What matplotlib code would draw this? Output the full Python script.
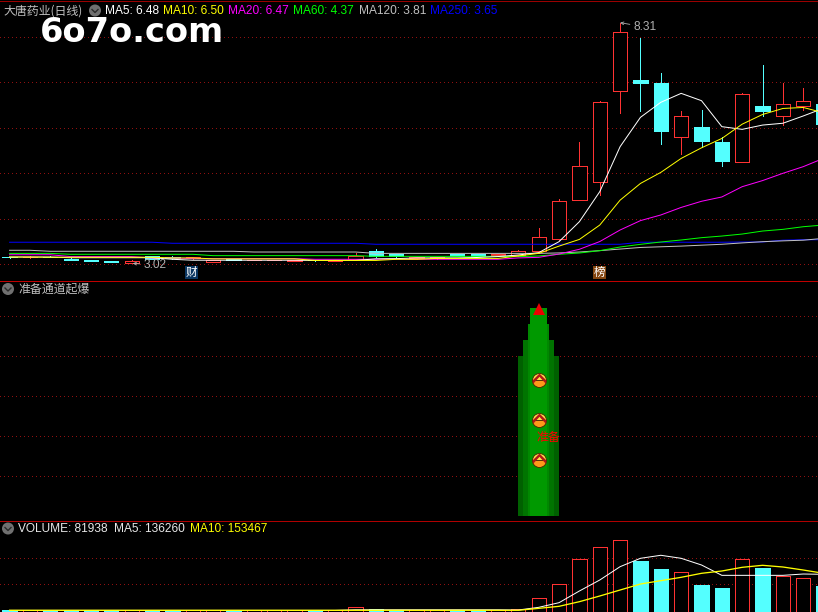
import matplotlib
matplotlib.use("Agg")
import matplotlib.pyplot as plt
from matplotlib.patches import Circle, Rectangle

W, H = 818, 612
X0, STEP = 9.6, 20.35

opens  = [3.16,3.15,3.17,3.125,3.10,3.07,3.03,3.18,3.17,3.13,3.05,3.11,3.09,3.09,3.075,3.10,3.075,3.116,3.30,3.226,3.13,3.13,3.22,3.22,3.20,
          3.20,3.286,3.55,4.41,4.80,6.80,7.05,6.98,5.79,6.02,5.69,5.24,6.47,6.25,6.49,6.52]
closes = [3.15,3.17,3.155,3.105,3.08,3.055,3.08,3.12,3.13,3.16,3.09,3.09,3.10,3.10,3.095,3.085,3.095,3.19,3.18,3.18,3.15,3.15,3.19,3.19,3.22,
          3.29,3.593,4.385,5.15,6.56,8.10,6.99,5.94,6.25,5.72,5.28,6.74,6.38,6.52,6.60,6.08]
highs  = [3.165,3.175,3.175,3.13,3.105,3.075,3.085,3.19,3.175,3.17,3.095,3.115,3.105,3.105,3.10,3.105,3.10,3.245,3.33,3.23,3.155,3.155,3.225,3.225,3.225,
          3.31,3.80,4.43,5.69,6.59,8.31,7.97,7.20,6.37,6.39,5.80,6.76,7.38,6.98,6.87,6.55]
lows   = [3.145,3.145,3.15,3.09,3.07,3.04,3.02,3.115,3.125,3.125,3.045,3.085,3.085,3.085,3.07,3.08,3.07,3.11,3.17,3.16,3.125,3.125,3.185,3.185,3.195,
          3.18,3.25,3.54,5.15,4.52,6.33,6.38,5.64,5.43,5.58,5.15,5.24,6.27,6.07,6.39,6.07]

ma5   = [3.16,3.16,3.16,3.145,3.145,3.145,3.145,3.145,3.11,3.09,3.09,3.09,3.09,3.09,3.09,3.085,3.085,3.085,3.12,3.125,3.14,3.14,3.14,3.15,3.17,
         3.205,3.256,3.498,3.937,4.596,5.585,6.23,6.56,6.757,6.596,6.025,5.966,6.06,6.10,6.26,6.43]
ma10  = [3.16,3.16,3.155,3.155,3.155,3.155,3.155,3.155,3.14,3.14,3.12,3.12,3.12,3.12,3.12,3.085,3.085,3.085,3.085,3.11,3.11,3.13,3.13,3.13,3.13,
         3.183,3.24,3.40,3.547,3.862,4.41,4.777,5.02,5.327,5.56,5.766,6.08,6.293,6.425,6.447,6.33]
ma20  = [3.21,3.21,3.21,3.17,3.17,3.17,3.17,3.14,3.14,3.125,3.125,3.125,3.125,3.125,3.125,3.11,3.11,3.11,3.11,3.11,3.11,3.11,3.11,3.11,3.11,
         3.14,3.153,3.226,3.33,3.50,3.754,3.96,4.084,4.25,4.385,4.48,4.706,4.84,5.0,5.146,5.33]
ma60  = [3.24,3.24,3.24,3.22,3.22,3.22,3.22,3.22,3.22,3.22,3.19,3.19,3.19,3.19,3.19,3.19,3.19,3.19,3.175,3.175,3.175,3.175,3.175,3.175,3.175,
         3.168,3.183,3.22,3.248,3.30,3.38,3.439,3.49,3.534,3.585,3.621,3.665,3.731,3.768,3.826,3.863]
ma120 = [3.308,3.308,3.286,3.286,3.286,3.286,3.286,3.286,3.286,3.286,3.286,3.286,3.27,3.27,3.27,3.27,3.27,3.27,3.24,3.24,3.24,3.24,3.24,3.24,3.24,
         3.24,3.24,3.25,3.27,3.30,3.335,3.37,3.385,3.40,3.42,3.44,3.47,3.497,3.515,3.53,3.57]
ma250 = [3.485]*8 + [3.462]*10 + [3.44]*13 + [3.485]*5 + [3.49]*2 + [3.53,3.54,3.54]

volume = [7000,6000,7000,7000,7000,7000,6000,7000,7000,6000,7000,6000,6000,6000,6000,6000,6000,15000,9000,7000,6000,6000,7000,7000,6000,
          10400,43200,87300,166100,203900,225900,160700,135500,125100,85100,75600,166100,138600,112500,106200,81938]
vol_ma5 = [5000]*17 + [7000]*8 + [6300,14700,29400,66200,100800,142800,169200,178700,169200,148100,115500,115500,115500,115500,119700,118700]
vol_ma10 = [5400]*25 + [5300,11500,17900,32500,50400,69300,88200,98700,109300,121900,129200,140800,147100,141800,132300,121900]

signal_x = 26
tower_tops = [80, 88, 96, 104]
tower_spans = [2.015, 1.52, 1.03, 0.835]
tower_colors = ["#006000", "#007400", "#008800", "#009900"]
signal_levels = [68, 48, 28]
peak_level = 103.4
note_level = 39.6

price_grid = [3, 4, 5, 6, 7, 8]
signal_grid = [20, 40, 60, 80, 100]
volume_grid = [87000, 169000]

RED, CYAN = "#ff3232", "#54ffff"
GRID = "#8f1010"
GRAY = "#c0c0c0"
EDGE = 0.72
LINE = 0.72
CJK = ["Noto Sans CJK SC", "DejaVu Sans"]
LATIN = "Liberation Sans"
FS = 8.6
PX = 0.72

fig = plt.figure(figsize=(W/100, H/100), dpi=100, facecolor="black")


def panel(top, bottom, ylim):
    ax = fig.add_axes([0, 1-bottom/H, 1, (bottom-top)/H], facecolor="black")
    ax.set_xlim(-X0/STEP, (W-X0)/STEP)
    ax.set_ylim(*ylim)
    ax.axis("off")
    return ax


def grid(ax, levels):
    for v in levels:
        ax.axhline(v, color=GRID, lw=0.6, ls=(0, (1.2, 3.6)), antialiased=False, zorder=0)


def candle_colour(o, c):
    return RED if c >= o else CYAN


# price panel
ax1 = panel(0, 280, (3+(264.3-280)/45.5, 3+264.3/45.5))
grid(ax1, price_grid)
xs = list(range(len(opens)))
for i, o, c, h, l in zip(xs, opens, closes, highs, lows):
    col = candle_colour(o, c)
    top, bot = max(o, c), min(o, c)
    ax1.vlines(i, top, h, color=col, lw=EDGE, antialiased=False, zorder=2)
    ax1.vlines(i, l, bot, color=col, lw=EDGE, antialiased=False, zorder=2)
    up = col == RED
    ax1.bar(i, top-bot, bottom=bot, width=0.70, facecolor="black" if up else CYAN,
            edgecolor=col, linewidth=EDGE, antialiased=False, zorder=3)
for series, colour, z in [(ma250, "#0000ff", 4), (ma120, GRAY, 4), (ma60, "#00ff00", 5),
                          (ma20, "#ff00ff", 5), (ma5, "#ffffff", 6), (ma10, "#ffff00", 6)]:
    ax1.plot(xs, series, color=colour, lw=LINE, antialiased=True, zorder=z)

hi = max(highs); hi_i = highs.index(hi)
lo = min(lows); lo_i = lows.index(lo)
ax1.annotate(f"{hi:.2f}", xy=(hi_i, hi), xytext=(634, H-27), textcoords="figure pixels",
             color="#b0b0b0", fontsize=FS, family=LATIN, va="center",
             arrowprops=dict(arrowstyle="->", color="#b0b0b0", lw=0.6, shrinkA=1, shrinkB=0, mutation_scale=5))
ax1.annotate(f"{lo:.2f}", xy=(lo_i+0.05, lo), xytext=(144, H-265), textcoords="figure pixels",
             color="#b0b0b0", fontsize=FS, family=LATIN, va="center", zorder=8,
             arrowprops=dict(arrowstyle="->", color="#b0b0b0", lw=0.6, shrinkA=1, shrinkB=0, mutation_scale=5))

# signal panel
ax2 = panel(281, 520, ((516.3-520)/2, (516.3-281)/2))
grid(ax2, signal_grid)
for top, span, colour in zip(tower_tops, tower_spans, tower_colors):
    ax2.bar(signal_x, top, width=span, color=colour, antialiased=False, zorder=2)
ax2.plot([signal_x], [peak_level], "^", color="#ee0000", ms=12.5*PX, mew=0, zorder=4)
chevron = [(-1, -0.55), (0, 0.55), (1, -0.55), (1, 0.05), (0, 1.05), (-1, 0.05)]
for v in signal_levels:
    ax2.plot([signal_x], [v], "o", ms=14*PX, fillstyle="bottom", markerfacecolor="#ff9a1a",
             markerfacecoloralt="#ffe24a", markeredgecolor="#4a2500", mew=0.6, zorder=4)
    ax2.plot([signal_x], [v], marker=chevron, ms=14*PX, color="#b01818", mew=0, zorder=5)
ax2.text(signal_x-0.12, note_level, "准备", color="#ff0000", fontsize=FS, family=CJK,
         va="center", ha="left", zorder=6)

# volume panel
ax3 = panel(521, 612, (0, 91*3151))
grid(ax3, volume_grid)
for i, o, c, v in zip(xs, opens, closes, volume):
    col = candle_colour(o, c)
    ax3.bar(i, v, width=0.70, facecolor="black" if col == RED else CYAN,
            edgecolor=col, linewidth=EDGE, antialiased=False, zorder=2)
ax3.plot(xs, vol_ma5, color="#ffffff", lw=LINE, antialiased=True, zorder=4)
ax3.plot(xs, vol_ma10, color="#ffff00", lw=LINE*1.3, antialiased=True, zorder=4)

# chrome: borders, icons, tags, headers
ov = fig.add_axes([0, 0, 1, 1], facecolor="none")
ov.set_xlim(0, W); ov.set_ylim(H, 0); ov.axis("off")
for y, colour in [(1, "#9a0000"), (280.5, "#c00000"), (520.5, "#b00000")]:
    ov.axhline(y, color=colour, lw=EDGE, antialiased=False)
for cx, cy in [(95, 10.5), (8, 289), (8, 528.5)]:
    ov.add_patch(Circle((cx, cy), 6, color="#707070", lw=0))
    ov.plot([cx-3, cx, cx+3], [cy-1, cy+2, cy-1], color="#2a2a2a", lw=1.0)
for x0, colour, label in [(185, "#0a3560", "财"), (593, "#83450f", "榜")]:
    ov.add_patch(Rectangle((x0, 266), 13, 13, color=colour, lw=0))
    ov.text(x0+6.5, 272.5, label, color="white", fontsize=8.4, family=CJK, ha="center", va="center")

ov.text(3, 11, "大唐药业(日线)", color=GRAY, fontsize=FS, family=CJK, va="center")
ov.text(18, 289, "准备通道起爆", color=GRAY, fontsize=FS, family=CJK, va="center")
headers = [
    (105, 11, "MA5: 6.48", "#ffffff"), (163, 11, "MA10: 6.50", "#ffff00"),
    (228, 11, "MA20: 6.47", "#ff00ff"), (293, 11, "MA60: 4.37", "#00ff00"),
    (359, 11, "MA120: 3.81", GRAY), (430, 11, "MA250: 3.65", "#0000ff"),
    (18, 528.5, "VOLUME: 81938", "#e8e8e8"), (114, 528.5, "MA5: 136260", "#e8e8e8"),
    (190, 528.5, "MA10: 153467", "#ffff00"),
]
for x, y, s, colour in headers:
    ov.text(x, y, s, color=colour, fontsize=FS, family=LATIN, va="center")
ov.text(40, 33, "6o7o.com", color="white", fontsize=24.2, family="DejaVu Sans",
        fontweight="bold", va="center", zorder=10)

fig.savefig("out.png", dpi=100, facecolor="black")
